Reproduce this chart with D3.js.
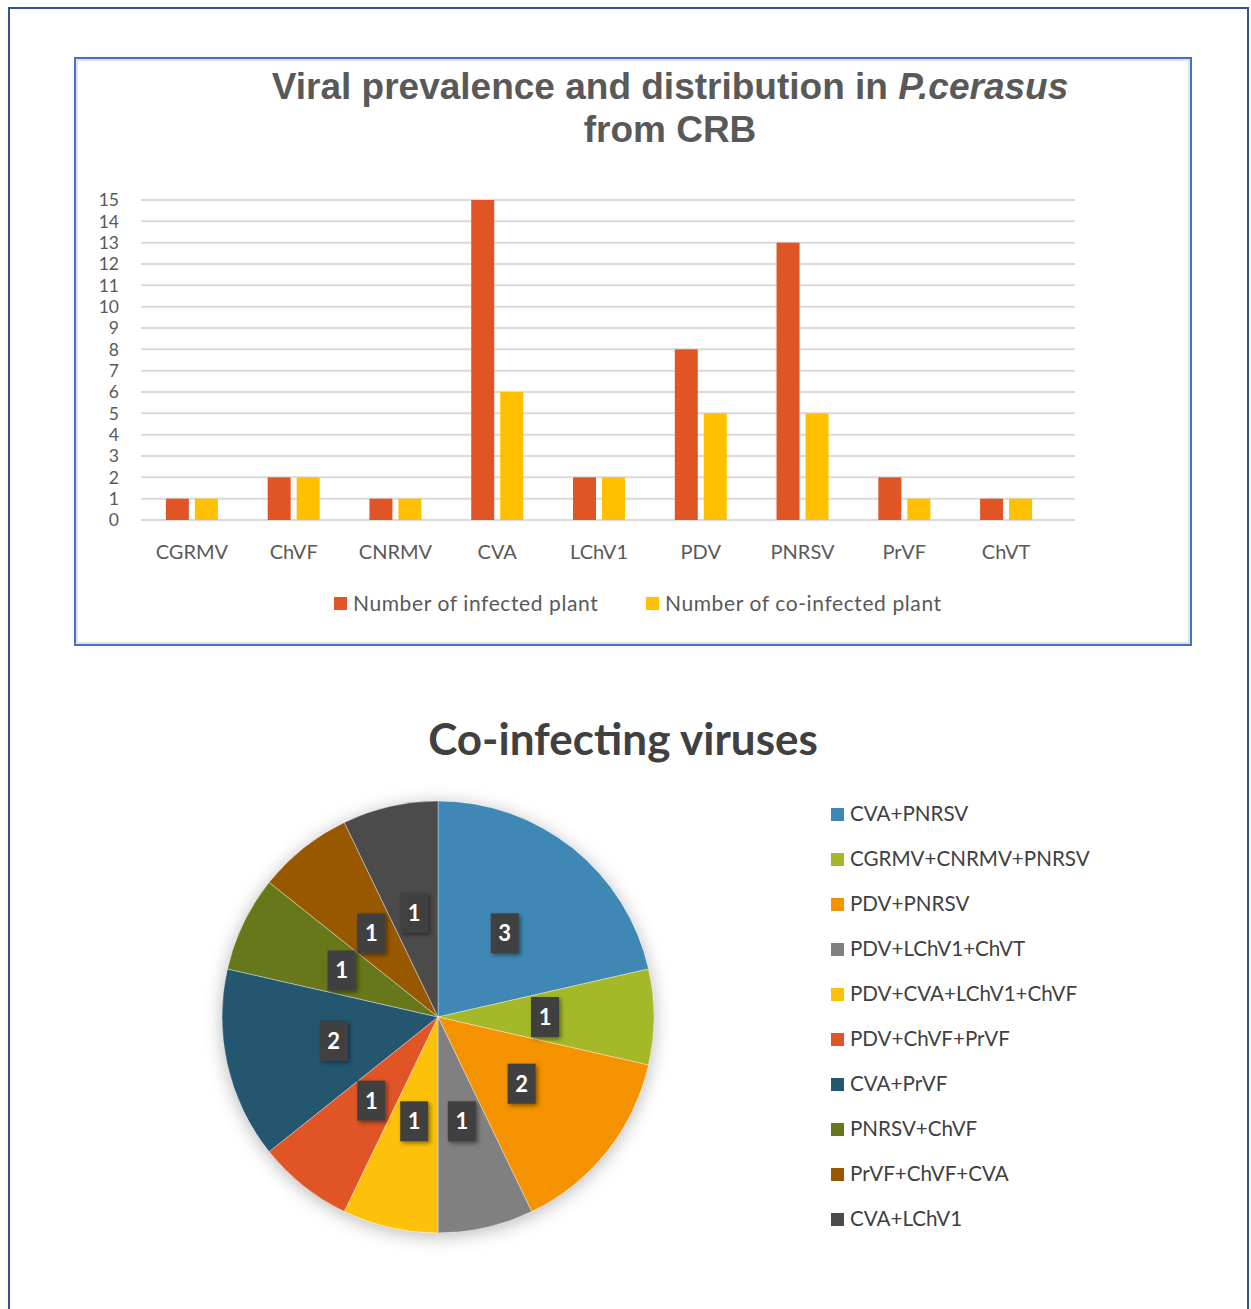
<!DOCTYPE html>
<html>
<head>
<meta charset="utf-8">
<script src="https://cdn.jsdelivr.net/npm/d3@7"></script>
<style>
  html, body { margin: 0; padding: 0; background: #fff; }
  svg { display: block; }
</style>
</head>
<body>
<svg id="fig" width="1251" height="1309"></svg>
<script>
// ---- Bar chart data ----
const viruses = ["CGRMV", "ChVF", "CNRMV", "CVA", "LChV1", "PDV", "PNRSV", "PrVF", "ChVT"];
const infected = [1, 2, 1, 15, 2, 8, 13, 2, 1];
const coInfected = [1, 2, 1, 6, 2, 5, 5, 1, 1];
const seriesNames = ["Number of infected plant", "Number of co-infected plant"];
const seriesColors = ["#E05425", "#FFC000"];
const yTicks = [0, 1, 2, 3, 4, 5, 6, 7, 8, 9, 10, 11, 12, 13, 14, 15];

// ---- Pie chart data ----
const combos = ["CVA+PNRSV", "CGRMV+CNRMV+PNRSV", "PDV+PNRSV", "PDV+LChV1+ChVT",
  "PDV+CVA+LChV1+ChVF", "PDV+ChVF+PrVF", "CVA+PrVF", "PNRSV+ChVF", "PrVF+ChVF+CVA", "CVA+LChV1"];
const comboCounts = [3, 1, 2, 1, 1, 1, 2, 1, 1, 1];
const comboColors = ["#3F88B5", "#A5B828", "#F49200", "#808080", "#FDC10A",
  "#E05425", "#245670", "#67781B", "#985800", "#4B4B4B"];

const svg = d3.select("#fig");
const textGray = "#595959";
const bodyFont = "Lato, 'Open Sans', sans-serif";

// defs: shadows
const defs = svg.append("defs");
const pieShadow = defs.append("filter").attr("id", "pieShadow")
  .attr("x", "-20%").attr("y", "-20%").attr("width", "140%").attr("height", "140%");
pieShadow.append("feDropShadow").attr("dx", 0).attr("dy", 3)
  .attr("stdDeviation", 9).attr("flood-color", "#000").attr("flood-opacity", 0.28);
const boxShadow = defs.append("filter").attr("id", "boxShadow")
  .attr("x", "-40%").attr("y", "-40%").attr("width", "180%").attr("height", "180%");
boxShadow.append("feDropShadow").attr("dx", 2).attr("dy", 2)
  .attr("stdDeviation", 2).attr("flood-color", "#000").attr("flood-opacity", 0.45);

// outer frame
svg.append("rect").attr("x", 9).attr("y", 8).attr("width", 1239).attr("height", 1320)
  .attr("fill", "none").attr("stroke", "#2F5597").attr("stroke-width", 2);

// ===================== Bar chart =====================
const box = { x: 75, y: 58, w: 1116, h: 587 };
svg.append("rect").attr("x", box.x + 2).attr("y", box.y + 2).attr("width", box.w - 4).attr("height", box.h - 4)
  .attr("fill", "none").attr("stroke", "#D9D9D9").attr("stroke-width", 1.5);
svg.append("rect").attr("x", box.x).attr("y", box.y).attr("width", box.w).attr("height", box.h)
  .attr("fill", "none").attr("stroke", "#4472C4").attr("stroke-width", 2);

const titleFont = "'Liberation Sans', Arial, sans-serif";
const title = svg.append("text").attr("x", 670).attr("y", 99)
  .attr("text-anchor", "middle").attr("fill", textGray)
  .style("font-family", titleFont).style("font-weight", "bold").style("font-size", "37px");
title.append("tspan").text("Viral prevalence and distribution in ");
title.append("tspan").style("font-style", "italic").text("P.cerasus");
svg.append("text").attr("x", 670).attr("y", 142).attr("text-anchor", "middle").attr("fill", textGray)
  .style("font-family", titleFont).style("font-weight", "bold").style("font-size", "37px").text("from CRB");

const plotLeft = 141, plotRight = 1075, plotTop = 200, plotBottom = 520;
const x0 = d3.scaleBand().domain(viruses).range([plotLeft, 1057]);
const x1 = d3.scaleBand().domain(seriesNames)
  .range([x0.bandwidth() / 2 - 26, x0.bandwidth() / 2 + 26]).paddingInner(0.207);
const y = d3.scaleLinear().domain([0, 15]).range([plotBottom, plotTop]);

// gridlines
svg.append("g").selectAll("line").data(yTicks).join("line")
  .attr("x1", plotLeft).attr("x2", plotRight)
  .attr("y1", d => y(d)).attr("y2", d => y(d))
  .attr("stroke", "#D9D9D9").attr("stroke-width", 2);

// y axis labels
const yAxis = d3.axisLeft(y).tickValues(yTicks).tickSize(0).tickPadding(0);
const gy = svg.append("g").attr("transform", "translate(119,0)").call(yAxis);
gy.select(".domain").remove();
gy.selectAll("text").attr("fill", textGray).attr("dy", "0.34em")
  .style("font-family", bodyFont).style("font-size", "17.5px");

// bars
const rows = viruses.map((v, i) => ({ v, vals: [infected[i], coInfected[i]] }));
const groups = svg.append("g").selectAll("g").data(rows).join("g")
  .attr("transform", d => `translate(${x0(d.v)},0)`);
groups.selectAll("rect").data(d => d.vals.map((val, j) => ({ s: seriesNames[j], val, j })))
  .join("rect")
  .attr("x", d => x1(d.s)).attr("width", x1.bandwidth())
  .attr("y", d => y(d.val)).attr("height", d => y(0) - y(d.val))
  .attr("fill", d => seriesColors[d.j]);

// x axis labels
const xAxis = d3.axisBottom(x0).tickSize(0).tickPadding(0);
const gx = svg.append("g").attr("transform", "translate(0,545)").call(xAxis);
gx.select(".domain").remove();
gx.selectAll("text").attr("fill", textGray).attr("dy", "0.71em")
  .style("font-family", bodyFont).style("font-size", "20px");

// legend
const legX = [334, 646];
seriesNames.forEach((name, j) => {
  svg.append("rect").attr("x", legX[j]).attr("y", 597).attr("width", 13).attr("height", 13)
    .attr("fill", seriesColors[j]);
  svg.append("text").attr("x", legX[j] + 19).attr("y", 611).attr("fill", textGray)
    .style("font-family", bodyFont).style("font-size", "21px").style("letter-spacing", "0.6px").text(name);
});

// ===================== Pie chart =====================
svg.append("text").attr("x", 623).attr("y", 755).attr("text-anchor", "middle").attr("fill", "#404040")
  .style("font-family", bodyFont).style("font-weight", "bold").style("font-size", "44px")
  .text("Co-infecting viruses");

const cx = 438, cy = 1017, R = 216;
const pie = d3.pie().sort(null).value(d => d.count);
const pieData = pie(combos.map((c, i) => ({ c, count: comboCounts[i], color: comboColors[i] })));
const arc = d3.arc().innerRadius(0).outerRadius(R);
const labelArc = d3.arc().innerRadius(107).outerRadius(107);

const gPie = svg.append("g").attr("transform", `translate(${cx},${cy})`);
gPie.append("circle").attr("r", R).attr("fill", "#fff").attr("filter", "url(#pieShadow)");
gPie.selectAll("path").data(pieData).join("path")
  .attr("d", arc).attr("fill", d => d.data.color)
  .attr("stroke", "#fff").attr("stroke-width", 0.6).attr("stroke-opacity", 0.6);

const lbl = gPie.selectAll("g.lbl").data(pieData).join("g").attr("class", "lbl")
  .attr("transform", d => `translate(${labelArc.centroid(d)})`);
lbl.append("rect").attr("x", -14).attr("y", -20).attr("width", 28).attr("height", 40)
  .attr("fill", "#404040").attr("filter", "url(#boxShadow)");
lbl.append("text").attr("text-anchor", "middle").attr("dy", "0.36em").attr("fill", "#fff")
  .style("font-family", bodyFont).style("font-weight", "bold").style("font-size", "22px")
  .text(d => d.data.count);

// pie legend
const legG = svg.append("g").selectAll("g").data(combos).join("g")
  .attr("transform", (d, i) => `translate(831,${814 + i * 45})`);
legG.append("rect").attr("x", 0).attr("y", -6).attr("width", 13).attr("height", 13)
  .attr("fill", (d, i) => comboColors[i]);
legG.append("text").attr("x", 19).attr("y", 7).attr("fill", "#404040")
  .style("font-family", bodyFont).style("font-size", "20.6px").text(d => d);
</script>
</body>
</html>
